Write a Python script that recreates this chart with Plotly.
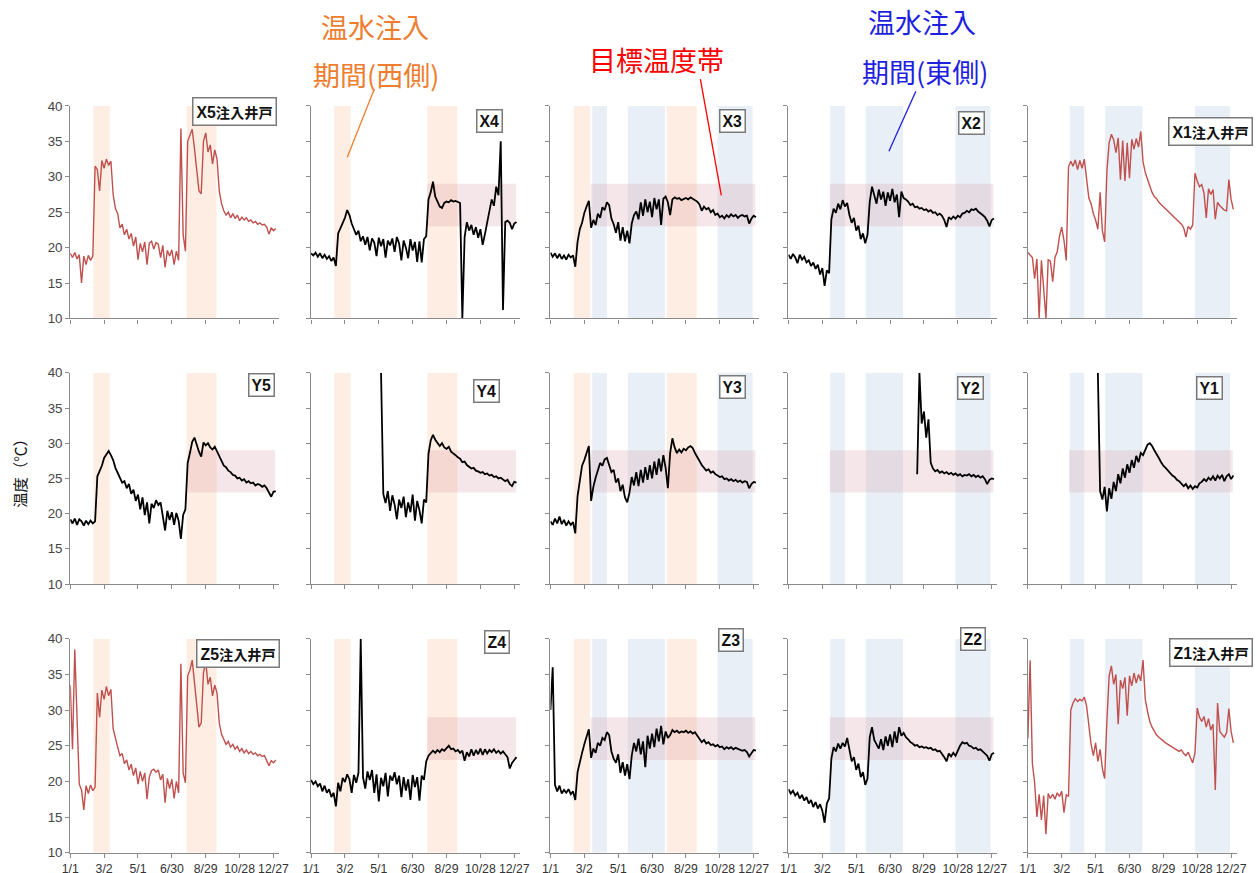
import plotly.graph_objects as go

# Sampling days (every 4 days from 1/1) and axis ticks
DAYS = list(range(0, 368, 4))
TICK_DAYS = [0, 60, 120, 180, 240, 300, 360]
TICK_LABELS = ["1/1", "3/2", "5/1", "6/30", "8/29", "10/28", "12/27"]
Y_TICKS = [10, 15, 20, 25, 30, 35, 40]

# Warm-water injection periods (day of year) and target temperature band
WEST_PERIODS = [(41, 70), (206, 259)]
EAST_PERIODS = [(74, 100), (137, 203), (296, 358)]
TARGET_LOW, TARGET_HIGH = 23, 29

# Well temperatures (°C), one value per sampling day, 12 values per row
X5 = [19.2, 18.6, 19.3, 18.4, 19.0, 15.0, 18.8, 17.6, 18.9, 18.2, 18.8, 31.5,
      31.0, 28.0, 32.3, 31.2, 32.5, 31.6, 32.2, 27.5, 25.5, 24.8, 22.8, 23.3,
      21.8, 22.6, 21.2, 22.0, 20.2, 21.5, 18.3, 20.6, 19.4, 20.8, 17.6, 20.6,
      20.9, 19.8, 20.7, 20.5, 18.6, 20.3, 17.2, 19.6, 18.8, 19.7, 17.6, 19.5,
      18.2, 36.8, 21.8, 19.5, 35.0, 35.8, 36.7, 34.0, 31.0, 28.0, 27.6, 35.0,
      36.2, 33.5, 34.5, 31.8, 33.8, 32.5, 28.0, 26.2, 25.2, 24.6, 25.0, 24.2,
      24.8, 24.1, 24.6, 23.8, 24.3, 23.9, 24.2, 23.7, 23.9, 23.5, 23.7, 23.3,
      23.5, 23.2, 23.3, 22.9, 21.9, 22.8, 22.4, 22.7]

X4 = [19.2, 18.9, 19.3, 18.7, 19.2, 18.5, 19.0, 18.4, 18.8, 18.1, 18.6, 17.4,
      22.0, 22.8, 23.6, 24.2, 25.3, 24.6, 23.4, 22.6, 21.8, 22.4, 20.9, 21.6,
      20.4, 21.5, 19.6, 21.3, 20.7, 18.8, 21.4, 20.2, 21.2, 18.6, 21.0, 20.3,
      21.3, 19.4, 21.5, 20.6, 18.2, 21.0, 20.0, 18.5, 21.2, 19.6, 20.8, 18.0,
      20.9, 17.9, 21.2, 21.6, 26.8, 27.8, 29.3, 27.2, 26.5, 25.8, 25.6, 26.3,
      26.5, 26.4, 26.7, 26.5, 26.6, 26.4, 26.3, 10.0, 21.5, 23.6, 22.4, 23.2,
      21.8, 22.9, 21.4, 22.6, 20.4, 21.9, 23.5, 25.4, 26.8, 25.9, 28.6, 27.4,
      35.0, 11.2, 23.6, 23.8, 23.5, 22.6, 23.4, 23.6]

X3 = [19.3, 18.7, 19.2, 18.5, 19.1, 18.4, 18.9, 18.3, 19.0, 18.6, 18.9, 17.3,
      20.8, 22.6, 23.5, 24.9, 25.8, 26.6, 22.8, 23.9, 23.2, 24.8, 24.2, 25.7,
      25.3, 26.4, 26.0, 24.1, 23.3, 22.1, 23.6, 21.0, 22.9, 20.9, 22.4, 20.6,
      23.4, 24.6, 25.1, 24.0, 26.4, 24.5, 26.8, 25.0, 26.5, 24.3, 27.0, 25.4,
      26.8, 23.2, 26.9, 27.2, 26.4, 24.6, 26.8, 27.1, 26.9, 27.0, 26.7, 26.9,
      27.0, 26.8, 27.1, 26.9, 26.7, 26.5, 26.1, 25.2, 25.8, 25.4, 25.6, 25.0,
      25.3, 24.6, 24.8, 24.3, 24.5, 24.1, 24.6, 24.3, 24.7, 24.4, 24.6, 24.2,
      24.5, 24.6, 24.4, 24.5, 23.4, 24.1, 24.5, 24.3]

X2 = [19.0, 18.4, 19.1, 18.6, 17.8, 19.0, 18.3, 18.7, 17.9, 18.2, 17.4, 17.9,
      17.0, 17.6, 16.2, 17.1, 14.6, 16.8, 16.4, 24.0, 25.5, 24.9, 26.2, 25.4,
      26.7, 25.8, 26.3, 24.6, 23.5, 24.2, 22.4, 23.1, 21.2, 22.0, 20.6, 21.8,
      26.5, 28.6, 27.4, 26.2, 28.2, 26.8, 27.9, 25.9, 27.8, 26.6, 28.3, 26.4,
      27.5, 24.3, 27.9, 27.0, 26.8, 26.5, 26.0, 26.2, 25.7, 25.8, 25.5, 25.6,
      25.3, 25.4, 25.1, 25.3, 24.9, 25.0, 24.6, 24.8, 24.5, 23.9, 22.9, 24.3,
      24.0, 24.4, 24.1, 24.5, 24.3, 24.8, 24.9, 25.2, 25.0, 25.4, 25.3, 25.5,
      25.1, 24.9, 24.6, 24.3, 23.8, 23.0, 23.9, 24.1]

X1 = [19.3, 18.9, 18.6, 15.6, 18.4, 10.0, 18.2, 14.2, 10.0, 18.3, 18.1, 15.2,
      18.6, 19.4, 21.6, 22.9, 21.0, 18.2, 31.4, 32.2, 31.5, 32.4, 31.0, 32.3,
      31.2, 32.5, 29.8, 27.0, 26.2, 24.8, 23.9, 22.6, 27.8, 22.4, 20.8, 30.8,
      34.8, 36.0, 35.2, 33.4, 35.5, 29.6, 35.1, 29.4, 34.8, 29.8, 35.3, 33.9,
      35.4, 34.2, 36.4, 32.1, 30.6, 29.5, 28.7, 27.8, 27.2, 26.9, 26.4, 26.1,
      25.8, 25.4, 25.1, 24.9, 24.6, 24.3, 24.0, 23.6, 23.3, 22.8, 21.5, 23.0,
      22.6, 23.2, 30.5, 29.4, 28.6, 28.9, 27.7, 24.2, 28.3, 27.5, 28.2, 24.0,
      26.4, 25.9, 25.6, 25.3, 25.2, 29.6, 26.8, 25.4]

Y5 = [19.2, 18.6, 19.3, 18.4, 19.2, 18.9, 18.3, 19.0, 18.5, 19.0, 18.6, 18.9,
      25.3, 26.1, 26.8, 27.9, 28.5, 28.9, 28.3, 27.6, 26.5, 25.8, 25.2, 24.4,
      24.6, 23.6, 24.2, 22.8, 23.4, 21.8, 22.7, 20.6, 22.3, 19.8, 21.6, 18.6,
      21.4, 20.8, 21.9, 21.2, 21.6, 19.6, 17.6, 20.4, 19.1, 20.2, 18.4, 20.1,
      19.0, 16.4, 19.8, 20.6, 27.2, 28.6, 30.2, 30.8, 29.6, 28.8, 28.1, 30.1,
      29.7, 30.0, 29.4, 29.1, 29.5, 28.8, 28.1, 27.5, 26.8, 26.6, 26.1, 25.9,
      25.5, 25.4, 25.0, 25.1, 24.7, 24.9, 24.4, 24.6, 24.3, 24.4, 24.0, 24.2,
      24.1, 23.8, 24.0, 23.6, 22.9, 22.4, 23.1, 23.2]

Y4 = [None, None, None, None, None, None, None, None, None, None, None, None,
      None, None, None, None, None, None, None, None, None, None, None, None,
      None, None, None, None, None, None, None, 40.0, 22.8, 21.5, 23.2, 20.4,
      22.6, 21.3, 19.2, 22.0, 20.8, 22.4, 19.5, 21.6, 20.2, 22.7, 19.0, 21.8,
      20.5, 18.6, 22.0, 21.6, 28.5, 30.4, 31.2, 30.5, 30.1, 29.6, 30.0, 29.4,
      29.2, 29.5, 28.8, 28.6, 28.3, 28.0, 27.8, 27.3, 27.4, 26.9, 26.7, 26.4,
      26.5, 26.1, 26.0, 25.8, 25.9, 25.6, 25.7, 25.4, 25.5, 25.2, 25.3, 25.0,
      25.1, 24.9, 24.6, 24.8, 24.2, 23.9, 24.5, 24.4]

Y3 = [18.9, 18.4, 19.3, 18.6, 19.6, 18.5, 19.1, 18.3, 18.9, 18.4, 18.8, 17.2,
      22.5, 25.0, 26.8, 27.6, 28.6, 29.6, 21.8, 23.8, 25.1, 26.3, 27.2, 26.8,
      27.7, 27.9, 27.0, 25.9, 26.2, 24.4, 25.0, 23.2, 24.1, 22.3, 21.6, 23.0,
      25.2, 24.0, 25.9, 23.9, 26.2, 24.4, 26.6, 24.8, 26.9, 25.0, 27.4, 25.5,
      27.8, 26.0, 28.3, 26.5, 23.6, 28.6, 30.7, 29.4, 28.6, 29.1, 28.7, 29.2,
      29.0, 29.4, 29.6, 29.3, 28.6, 28.0, 27.4, 26.9, 26.5, 26.1, 26.3, 25.8,
      26.0, 25.6, 25.4, 25.2, 25.3, 24.9, 25.0, 24.7, 24.9, 24.6, 24.8, 24.5,
      24.7, 24.4, 24.6, 24.5, 23.6, 24.2, 24.5, 24.4]

Y2 = [None, None, None, None, None, None, None, None, None, None, None, None,
      None, None, None, None, None, None, None, None, None, None, None, None,
      None, None, None, None, None, None, None, None, None, None, None, None,
      None, None, None, None, None, None, None, None, None, None, None, None,
      None, None, None, None, None, None, None, None, None, 25.6, 40.0, 32.8,
      34.5, 30.8, 33.4, 27.2, 26.4, 26.0, 26.2, 25.8, 26.0, 25.7, 25.9, 25.6,
      25.8, 25.5, 25.7, 25.4, 25.6, 25.3, 25.5, 25.4, 25.6, 25.3, 25.5, 25.2,
      25.4, 25.1, 25.3, 24.9, 24.2, 24.8, 25.0, 24.9]

Y1 = [None, None, None, None, None, None, None, None, None, None, None, None,
      None, None, None, None, None, None, None, None, None, None, None, None,
      None, None, None, None, None, None, None, 40.0, 23.2, 22.0, 23.8, 20.3,
      23.6, 22.1, 24.5, 23.2, 25.6, 24.3, 26.4, 25.1, 27.0, 25.8, 27.6, 26.5,
      28.2, 27.3, 28.6, 28.3, 29.2, 29.8, 30.0, 29.6, 29.0, 28.5, 27.9, 27.3,
      26.8, 26.5, 26.1, 25.7, 25.4, 25.2, 24.8, 24.6, 24.3, 23.9, 24.2, 23.6,
      24.0, 23.5, 23.9, 23.7, 24.3, 24.5, 24.9, 24.6, 25.1, 24.8, 25.3, 24.7,
      25.4, 25.0, 25.5, 24.6, 25.3, 25.6, 24.9, 25.4]

Z5 = [33.5, 24.5, 38.5, 30.0, 19.6, 18.8, 16.0, 19.4, 18.3, 19.5, 18.7, 19.2,
      32.4, 29.0, 32.8, 31.5, 33.3, 32.0, 32.9, 27.4, 25.9, 24.8, 23.6, 23.9,
      22.5, 23.0, 21.6, 22.4, 20.8, 21.9, 19.6, 21.4, 20.0, 21.2, 17.5, 20.6,
      21.5, 21.7, 21.3, 21.6, 20.2, 21.0, 17.0, 20.4, 19.0, 20.3, 17.6, 20.0,
      18.4, 36.5, 21.2, 19.8, 34.8, 35.6, 37.0, 34.2, 30.8, 27.6, 28.2, 35.2,
      36.8, 33.6, 34.6, 32.0, 33.5, 32.4, 28.2, 26.6, 25.8, 25.2, 25.6, 24.8,
      25.2, 24.5, 24.9, 24.2, 24.6, 24.0, 24.4, 23.9, 24.2, 23.8, 24.0, 23.6,
      23.8, 23.5, 23.6, 22.8, 22.2, 22.9, 22.6, 23.0]

Z4 = [20.2, 19.6, 20.0, 19.3, 19.7, 18.6, 19.4, 18.4, 18.9, 17.8, 18.4, 16.5,
      19.8, 18.6, 20.5, 19.9, 21.0, 20.3, 18.4, 20.9, 19.8, 21.2, 40.0, 20.6,
      19.0, 21.4, 20.2, 21.6, 18.4, 21.0, 17.2, 20.5, 19.3, 21.2, 17.9, 20.8,
      20.1, 21.3, 19.6, 20.8, 17.8, 20.6, 18.7, 20.3, 17.4, 20.9, 19.2, 20.6,
      17.3, 20.8, 20.2, 22.8, 23.6, 24.0, 24.3, 24.0, 24.4, 24.1, 24.5, 24.3,
      24.6, 25.0, 24.5, 24.6, 24.2, 24.4, 24.0, 24.3, 22.9, 24.1, 23.5, 24.5,
      23.6, 24.4, 23.8, 24.6, 23.7, 24.5, 23.9, 24.4, 24.1, 24.5, 24.0, 24.3,
      23.9, 24.2, 23.8, 23.4, 21.8, 22.6, 23.0, 23.4]

Z3 = [30.0, 36.0, 19.5, 18.6, 19.4, 18.3, 18.8, 18.4, 18.9, 18.2, 18.6, 17.4,
      21.3, 22.8, 24.0, 25.2, 26.3, 27.3, 23.3, 24.6, 24.0, 25.4, 25.0, 26.1,
      25.8, 26.9, 26.5, 24.2, 23.2, 22.6, 23.8, 21.2, 22.7, 20.8, 22.4, 20.3,
      23.6, 25.4, 24.2, 26.0, 23.8, 25.6, 22.0, 26.4, 24.6, 26.7, 24.8, 27.4,
      25.6, 27.8, 25.2, 27.0, 26.1, 26.5, 27.2, 26.9, 27.1, 26.8, 27.0, 26.9,
      27.1, 26.8, 27.0, 26.7, 26.9, 26.4, 25.9, 25.5, 25.8, 25.3, 25.5, 25.1,
      25.2, 24.9, 25.1, 24.8, 24.9, 24.5, 24.8, 24.6, 24.8, 24.5, 24.7, 24.6,
      24.5, 24.3, 24.4, 24.1, 23.5, 23.9, 24.4, 24.3]

Z2 = [18.9, 18.3, 18.7, 18.0, 18.4, 17.6, 18.1, 17.3, 17.8, 16.9, 17.4, 16.4,
      17.1, 16.2, 16.8, 15.9, 14.2, 16.9, 17.6, 23.2, 24.8, 24.2, 25.3, 24.6,
      25.4, 24.9, 26.1, 24.3, 22.8, 23.4, 21.6, 22.5, 20.6, 21.3, 19.5, 20.4,
      26.2, 27.6, 25.8, 25.2, 24.6, 25.9, 24.4, 26.3, 25.0, 26.6, 24.8, 27.0,
      25.4, 27.6, 26.4, 26.8, 26.2, 25.9, 25.5, 25.3, 25.0, 25.1, 24.8, 24.9,
      24.7, 24.8, 24.6, 24.7, 24.4, 24.5, 24.2, 24.3, 23.9, 23.4, 22.8, 23.9,
      23.5, 24.0, 23.6, 24.4, 25.0, 25.5, 25.3, 25.4, 25.0, 24.9, 24.6, 24.7,
      24.4, 24.5, 24.2, 24.0, 23.6, 22.9, 23.8, 24.0]

Z1 = [26.0, 37.0, 22.5, 19.8, 15.0, 18.2, 14.6, 18.0, 12.6, 18.3, 17.6, 18.2,
      17.5, 18.4, 17.9, 18.6, 15.6, 18.1, 17.9, 30.0, 31.0, 31.6, 31.2, 31.5,
      31.3, 31.8, 30.6, 27.4, 25.2, 23.6, 25.4, 22.8, 24.5, 21.8, 20.4, 28.5,
      34.8, 36.2, 33.6, 35.0, 28.0, 34.2, 33.0, 34.6, 29.2, 34.8, 33.4, 35.2,
      33.8, 35.0, 34.1, 37.0, 31.5, 29.8, 28.4, 27.6, 27.0, 26.5, 26.2, 25.9,
      25.6, 25.4, 25.2, 25.0, 24.9, 24.7, 24.5, 24.2, 24.4, 23.9, 23.6, 24.1,
      23.3, 22.6, 24.0, 30.3, 29.0, 28.4, 29.1, 27.6, 28.8, 27.2, 28.0, 18.8,
      31.0, 27.0, 26.6, 26.2, 26.8, 30.2, 27.0, 25.4]

INJ = "#c0504d"
MON = "#000000"

# (well name, is injection well, values, west shading, east shading, band start day)
PANELS = [
    ("X5", True, X5, True, False, None),
    ("X4", False, X4, True, False, 206),
    ("X3", False, X3, True, True, 71),
    ("X2", False, X2, False, True, 73),
    ("X1", True, X1, False, True, None),
    ("Y5", False, Y5, True, False, 209),
    ("Y4", False, Y4, True, False, 206),
    ("Y3", False, Y3, True, True, 71),
    ("Y2", False, Y2, False, True, 73),
    ("Y1", False, Y1, False, True, 73),
    ("Z5", True, Z5, True, False, None),
    ("Z4", False, Z4, True, False, 206),
    ("Z3", False, Z3, True, True, 71),
    ("Z2", False, Z2, False, True, 73),
    ("Z1", True, Z1, False, True, None),
]

# Layout positions are given on a 1257 x 873 frame; the page keeps the
# browser's 8px body margin, so the figure is sized and offset to fill it.
REF_W, REF_H = 1257, 873
PAGE_W, PAGE_H, BODY_MARGIN = 1273, 889, 8
FIG_W, FIG_H = PAGE_W - BODY_MARGIN, PAGE_H - BODY_MARGIN


def px(x):
    return (x * PAGE_W / REF_W - BODY_MARGIN) / FIG_W


def py(y):
    return 1 - (y * PAGE_H / REF_H - BODY_MARGIN) / FIG_H


COL_X0 = [69.3, 310.7, 550.7, 789.3, 1029.3]
ROW_Y = [(106.7, 319.0), (373.3, 584.3), (639.0, 852.7)]
X_MAX = 370
PANEL_W = 209.4

# label box anchor (right edge, top edge)
LABEL_POS = [
    (277, 98), (503, 110), (747, 110), (986, 112), (1255, 118),
    (275, 373), (500, 379), (747, 375), (985, 376), (1225, 376),
    (280, 639), (510, 630), (745, 628), (987, 627), (1255, 638),
]

FONT = "Liberation Sans, Arial, Noto Sans CJK JP, sans-serif"
CJK = "Noto Sans CJK JP, Liberation Sans, sans-serif"

fig = go.Figure()
shapes = []
annotations = []
layout = {}

for i, (name, inj, vals, west, east, band_start) in enumerate(PANELS):
    r, c = divmod(i, 5)
    sfx = "" if i == 0 else str(i + 1)
    xa, ya = "x" + sfx, "y" + sfx
    x0 = COL_X0[c]
    ytop, ybot = ROW_Y[r]
    layout["xaxis" + sfx] = dict(
        domain=[px(x0), px(x0 + PANEL_W)], range=[0, X_MAX], anchor=ya,
        tickvals=TICK_DAYS, ticktext=TICK_LABELS, showticklabels=(r == 2),
        ticks="outside", ticklen=4, tickcolor="#8a8a8a", tickwidth=1,
        showline=True, linecolor="#8a8a8a", linewidth=1.2,
        showgrid=False, zeroline=False,
        tickfont=dict(size=12.3, color="#333333", family=FONT),
    )
    layout["yaxis" + sfx] = dict(
        domain=[py(ybot), py(ytop)], range=[10, 40], anchor=xa,
        tickvals=Y_TICKS, showticklabels=(c == 0),
        ticks="outside", ticklen=4, tickcolor="#8a8a8a", tickwidth=1,
        showline=True, linecolor="#8a8a8a", linewidth=1.2,
        showgrid=False, zeroline=False,
        tickfont=dict(size=13.3, color="#444444", family=FONT),
    )
    if west:
        for a, b in WEST_PERIODS:
            shapes.append(dict(type="rect", xref=xa, yref=ya, x0=a, x1=b, y0=10, y1=40,
                               fillcolor="rgba(250,190,150,0.28)", line_width=0, layer="below"))
    if east:
        for a, b in EAST_PERIODS:
            shapes.append(dict(type="rect", xref=xa, yref=ya, x0=a, x1=b, y0=10, y1=40,
                               fillcolor="rgba(165,190,222,0.24)", line_width=0, layer="below"))
    if band_start is not None:
        shapes.append(dict(type="rect", xref=xa, yref=ya, x0=band_start, x1=363,
                           y0=TARGET_LOW, y1=TARGET_HIGH,
                           fillcolor="rgba(200,120,135,0.18)", line_width=0, layer="below"))

    fig.add_trace(go.Scatter(
        x=DAYS, y=vals, xaxis=xa, yaxis=ya, mode="lines",
        line=dict(color=INJ if inj else MON, width=1.4 if inj else 1.8),
        connectgaps=False, showlegend=False, hoverinfo="skip",
    ))

    if inj:
        text = (f"<b>{name}<span style='font-family:Noto Sans CJK JP;"
                f"font-size:14.2px'>注入井戸</span></b>")
        pad = 3
    else:
        text = f"<b>{name}</b>"
        pad = 2
    rx, ty = LABEL_POS[i]
    annotations.append(dict(
        text=text, xref="paper", yref="paper", x=px(rx), y=py(ty),
        xanchor="right", yanchor="top", showarrow=False,
        font=dict(size=15.8, color="#111111", family=FONT),
        bgcolor="white", bordercolor="#7a7a7a", borderwidth=1.5, borderpad=pad,
    ))

# Header callouts
ORANGE = "#ee7d2f"
RED = "#ff0000"
BLUE = "#1f1fe0"
callouts = [
    ("温水注入", 375, 27, ORANGE),
    ("期間(西側)", 376, 75, ORANGE),
    ("目標温度帯", 657, 60, RED),
    ("温水注入", 923, 22, BLUE),
    ("期間(東側)", 926, 72, BLUE),
]
for txt, cx, cy, col in callouts:
    annotations.append(dict(
        text=txt, xref="paper", yref="paper", x=px(cx), y=py(cy),
        xanchor="center", yanchor="middle", showarrow=False,
        font=dict(size=27, color=col, family=CJK),
    ))

leader_lines = [
    ((374, 90), (347, 158), ORANGE),
    ((701, 80), (722, 196), RED),
    ((917, 92), (890, 152), BLUE),
]
for (ax_, ay_), (bx_, by_), col in leader_lines:
    shapes.append(dict(type="line", xref="paper", yref="paper",
                       x0=px(ax_), y0=py(ay_), x1=px(bx_), y1=py(by_),
                       line=dict(color=col, width=1.3)))

annotations.append(dict(
    text="温度（℃）", xref="paper", yref="paper", x=px(18), y=py(470),
    xanchor="center", yanchor="middle", textangle=-90, showarrow=False,
    font=dict(size=15.3, color="#111111", family=CJK),
))

fig.update_layout(
    width=FIG_W, height=FIG_H, margin=dict(l=0, r=0, t=0, b=0),
    paper_bgcolor="white", plot_bgcolor="white",
    shapes=shapes, annotations=annotations, **layout,
)

fig.write_html("out.html")
